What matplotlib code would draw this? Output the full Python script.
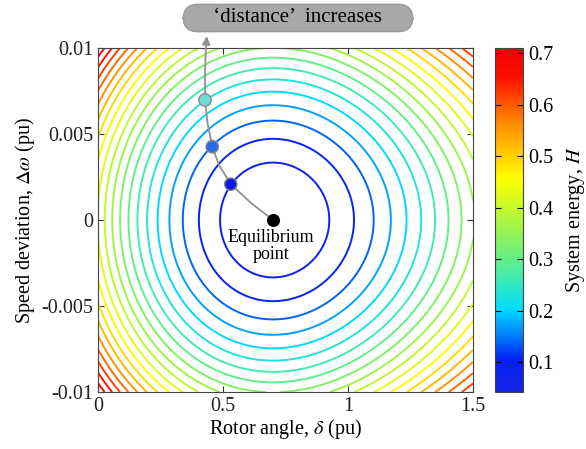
import matplotlib
matplotlib.use('Agg')
import matplotlib.pyplot as plt
import numpy as np
from matplotlib.colors import LinearSegmentedColormap, Normalize
from matplotlib.cm import ScalarMappable

plt.rcParams['font.family'] = ['Liberation Serif', 'DejaVu Serif']
plt.rcParams['mathtext.fontset'] = 'stix'
plt.rcParams['axes.unicode_minus'] = False

# energy function parameters
delta_s = 0.70
p_max = 1.77
m_coef = 2874.0
h_min = 0.042
h_max = 0.71

levels = [0.074, 0.106, 0.138, 0.170, 0.202, 0.234, 0.266, 0.298, 0.330, 0.362,
          0.394, 0.426, 0.458, 0.490, 0.522, 0.554, 0.586, 0.618, 0.650, 0.682]

xticks = [0, 0.5, 1, 1.5]
xticklabels = ['0', '0.5', '1', '1.5']
yticks = [-0.01, -0.005, 0, 0.005, 0.01]
yticklabels = ['-0.01', '-0.005', '0', '0.005', '0.01']
cbar_ticks = [0.1, 0.2, 0.3, 0.4, 0.5, 0.6, 0.7]

# trajectory leaving the equilibrium point
traj_delta = [0.700, 0.612, 0.531, 0.484, 0.457, 0.438, 0.428, 0.428, 0.432]
traj_dw = [0.0, 0.00099, 0.00208, 0.00320, 0.00426, 0.00564, 0.00698, 0.00872, 0.0101]
dot_delta = [0.531, 0.457, 0.428]
dot_dw = [0.00208, 0.00426, 0.00698]
dot_colors = ['#0a1ae6', '#2a6ae8', '#70dcd8']

cmap = LinearSegmentedColormap.from_list('energy', [
    (0.00, (0.08, 0.15, 0.90)),
    (0.09, (0.02, 0.12, 0.95)),
    (0.16, (0.00, 0.48, 1.00)),
    (0.24, (0.00, 0.86, 1.00)),
    (0.33, (0.25, 0.92, 0.70)),
    (0.45, (0.55, 0.95, 0.35)),
    (0.62, (1.00, 1.00, 0.00)),
    (0.78, (1.00, 0.55, 0.00)),
    (0.92, (1.00, 0.05, 0.00)),
    (1.00, (0.95, 0.00, 0.00))])
norm = Normalize(h_min, h_max)

d = np.linspace(0, 1.5, 400)
w = np.linspace(-0.01, 0.01, 400)
D, W = np.meshgrid(d, w)
H = h_min + p_max * ((np.cos(delta_s) - np.cos(D)) - np.sin(delta_s) * (D - delta_s)) + m_coef * W**2

fig = plt.figure(figsize=(5.86, 4.49), dpi=100)
ax = fig.add_axes([98/586, 1 - 392/449, 375/586, 344/449])
ax.contour(D, W, H, levels=levels, cmap=cmap, norm=norm, linewidths=1.4)

ax.plot(traj_delta, traj_dw, color='#909090', lw=1.3, clip_on=False, zorder=3)
ax.annotate('', xy=(0.436, 0.01085), xytext=(0.432, 0.0100),
            arrowprops=dict(arrowstyle='-|>', color='#909090', lw=1.3, mutation_scale=12),
            annotation_clip=False)
ax.scatter(dot_delta, dot_dw, s=80, c=dot_colors, edgecolors='#8a8a8a', linewidths=1, zorder=4)
ax.scatter([delta_s], [0], s=70, c='black', zorder=4)
ax.text(0.692, -0.0005, 'Equilibrium\npoint', ha='center', va='top', fontsize=13, linespacing=1.05)

ax.set_xlim(0, 1.5)
ax.set_ylim(-0.01, 0.01)
ax.set_xticks(xticks)
ax.set_xticklabels(xticklabels)
ax.set_yticks(yticks)
ax.set_yticklabels(yticklabels)
ax.tick_params(direction='in', length=4, top=True, right=True, labelsize=14.5, colors='#333333',
               labelcolor='#222222')
for s in ax.spines.values():
    s.set_color('#444444')
ax.set_xlabel(r'Rotor angle, $\delta$ (pu)', fontsize=14.5, labelpad=1)
ax.set_ylabel(r'Speed deviation, $\Delta\omega$ (pu)', fontsize=14.5, labelpad=3)

cax = fig.add_axes([495/586, 1 - 392/449, 28/586, 344/449])
cb = fig.colorbar(ScalarMappable(norm=norm, cmap=cmap), cax=cax, ticks=cbar_ticks)
cb.ax.tick_params(direction='in', length=4, left=True, right=True, labelsize=14.5)
cb.outline.set_edgecolor('#444444')
cb.set_label(r'System energy, $H$', fontsize=14.5, labelpad=8)

fig.text(298/586, 1 - 18/449, '     \u2018distance\u2019  increases     ', ha='center', va='center',
         fontsize=15, bbox=dict(boxstyle='round,pad=0.2,rounding_size=0.7', fc='#a8a8a8', ec='#999999'))

fig.savefig('out.png', dpi=100)
